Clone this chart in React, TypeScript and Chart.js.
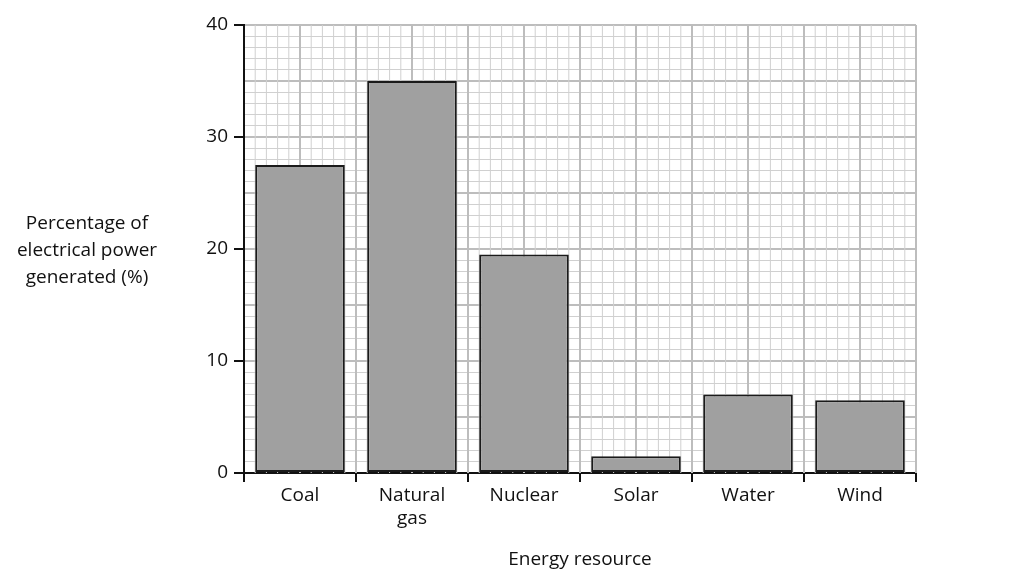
import React, { useEffect, useRef } from "react";
import { Chart, registerables } from "chart.js";
Chart.register(...registerables);

const categories: (string | string[])[] = ["Coal", ["Natural", "gas"], "Nuclear", "Solar", "Water", "Wind"];
const values = [27.5, 35, 19.5, 1.5, 7, 6.5];
const yTitle = ["Percentage of", "electrical power", "generated (%)"];
const xTitle = "Energy resource";
const FONT = "'Open Sans', 'DejaVu Sans', sans-serif";

export default function App() {
  const ref = useRef<HTMLCanvasElement>(null);
  useEffect(() => {
    const vgrid = {
      id: "vgrid",
      beforeDatasetsDraw(chart: any) {
        const { ctx, chartArea: a, scales } = chart;
        const unit = Math.abs(scales.y.getPixelForValue(1) - scales.y.getPixelForValue(0));
        ctx.save();
        for (let k = 1; ; k++) {
          const x = a.left + k * unit;
          if (x > a.right + 1) break;
          ctx.beginPath();
          ctx.strokeStyle = k % 5 === 0 ? "#bdbdbd" : "#d0d0d0";
          ctx.lineWidth = k % 5 === 0 ? 2 : 1;
          ctx.moveTo(x, a.top);
          ctx.lineTo(x, a.bottom);
          ctx.stroke();
        }
        ctx.restore();
      },
      afterDraw(chart: any) {
        const { ctx } = chart;
        ctx.save();
        ctx.fillStyle = "#111";
        ctx.font = `19px ${FONT}`;
        ctx.textAlign = "center";
        ctx.textBaseline = "middle";
        yTitle.forEach((t, i) => ctx.fillText(t, 87, 224 + i * 27));
        ctx.fillText(xTitle, 580, 560);
        ctx.restore();
      },
    };
    const chart = new Chart(ref.current!, {
      type: "bar",
      data: {
        labels: categories as any,
        datasets: [{
          data: values,
          backgroundColor: "#a0a0a0",
          borderColor: "#1a1a1a",
          borderWidth: 2,
          borderSkipped: false,
          barPercentage: 0.8,
          categoryPercentage: 1,
        }],
      },
      options: {
        responsive: false,
        animation: false,
        layout: { padding: { top: 25, right: 108, left: 0, bottom: 0 } },
        plugins: { legend: { display: false }, tooltip: { enabled: false } },
        scales: {
          x: {
            offset: true,
            grid: { offset: true, drawOnChartArea: false, drawTicks: true, tickLength: 9, tickColor: "#111", lineWidth: 2 },
            border: { color: "#111", width: 2 },
            ticks: { color: "#111", font: { family: FONT, size: 19 }, padding: 2, maxRotation: 0 },
            afterFit(s: any) { s.height = 586 - 473; },
          },
          y: {
            min: 0, max: 40,
            ticks: {
              stepSize: 1, autoSkip: false, color: "#111", font: { family: FONT, size: 19 }, padding: 6,
              callback: (v: any) => (v % 10 === 0 ? String(v) : ""),
            },
            grid: {
              color: (c: any) => (c.tick && c.tick.value % 5 === 0 ? "#bdbdbd" : "#d0d0d0"),
              lineWidth: (c: any) => (c.tick && c.tick.value % 5 === 0 ? 2 : 1),
              tickLength: 10,
              tickColor: (c: any) => (c.tick && c.tick.value % 10 === 0 ? "#111" : "rgba(0,0,0,0)"),
              tickWidth: 2,
            } as any,
            border: { color: "#111", width: 2 },
            afterFit(s: any) { s.width = 244; },
          },
        },
      },
      plugins: [vgrid],
    } as any);
    return () => chart.destroy();
  }, []);
  return (
    <div style={{ position: "absolute", left: 0, top: 0, width: 1024, height: 586, background: "#fff" }}>
      <canvas ref={ref} width={1024} height={586} style={{ display: "block" }} />
    </div>
  );
}
